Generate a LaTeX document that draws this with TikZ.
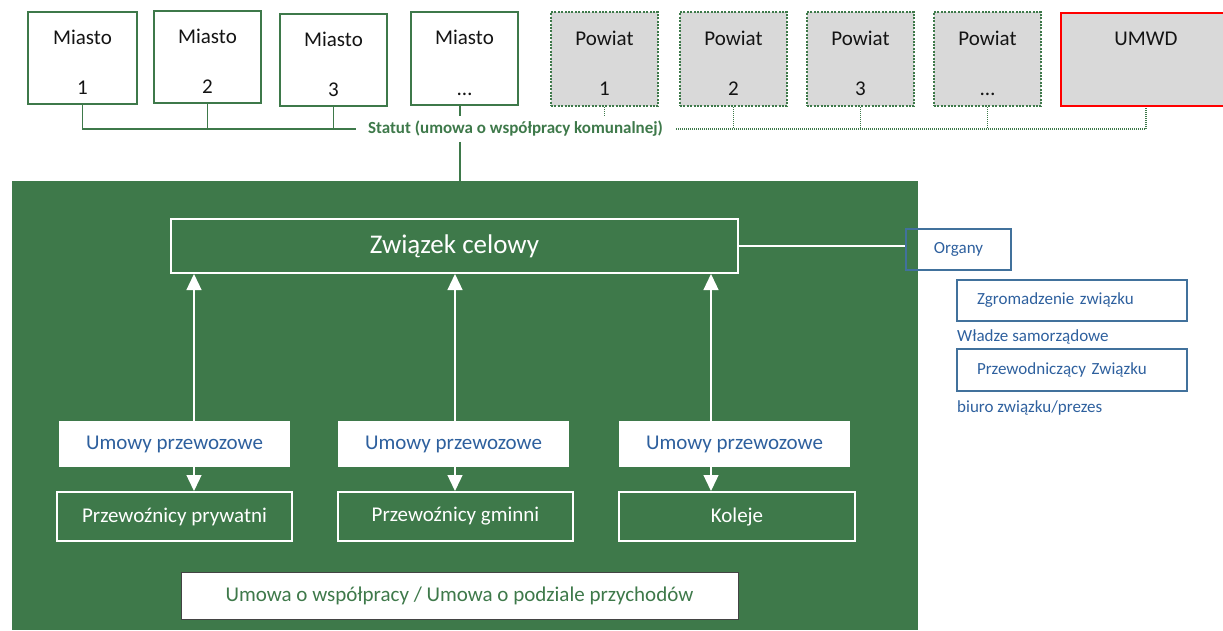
\documentclass[tikz,border=0pt]{standalone}
\usepackage{fontspec}
\setmainfont{Carlito}
\usetikzlibrary{arrows.meta}
\definecolor{gr}{RGB}{62,121,74}
\definecolor{grayfill}{RGB}{217,217,217}
\definecolor{bluetxt}{RGB}{46,96,158}
\definecolor{blueln}{RGB}{65,113,156}
\definecolor{redln}{RGB}{255,0,0}
\definecolor{ink}{RGB}{20,20,20}
\tikzset{
  big/.style={font=\fontsize{21}{25}\selectfont},
  citybox/.style={draw=gr, line width=2.5pt, fill=white, big, text=ink,
    inner xsep=0pt, inner ysep=0pt, text height=32pt, text depth=60pt},
  powbox/.style={draw=gr, line width=2.5pt, dash pattern=on 2pt off 1.4pt, fill=grayfill, big, text=ink,
    inner xsep=0pt, inner ysep=0pt, text height=33pt, text depth=60pt},
  numlab/.style={big, text=ink, anchor=base, inner sep=0pt},
  wbox/.style={draw=white, line width=2pt, text=white, big, inner sep=0pt},
  ubox/.style={fill=white, text=bluetxt, big, inner sep=0pt},
  orgbox/.style={draw=blueln, line width=1.3pt, text=bluetxt, font=\fontsize{17}{20}\selectfont, inner sep=0pt},
  orgtxt/.style={text=bluetxt, font=\fontsize{17}{20}\selectfont, inner sep=0pt, anchor=west},
  gline/.style={draw=gr, line width=1.2pt},
  dline/.style={draw=gr, line width=1.2pt, dash pattern=on 1pt off 1pt},
  warr/.style={draw=white, line width=1.3pt, -{Triangle[width=15pt,length=16pt]}, white},
}
\begin{document}
\begin{tikzpicture}[x=1pt,y=-1pt]
\useasboundingbox (0,0) rectangle (1223,630);
% green background
\node[fill=gr, minimum width=906pt, minimum height=449pt, inner sep=0pt, anchor=north west] (bg) at (12,181) {};

% cities
\node[citybox, minimum width=109pt, minimum height=92pt, label={[name=m1n, numlab, yshift=11pt]south:1}] (m1) at (82.5,58) {Miasto};
\node[citybox, minimum width=107pt, minimum height=92pt, label={[name=m2n, numlab, yshift=11pt]south:2}] (m2) at (207.5,57) {Miasto};
\node[citybox, minimum width=107pt, minimum height=92pt, label={[name=m3n, numlab, yshift=11pt]south:3}] (m3) at (333.5,60) {Miasto};
\node[citybox, minimum width=107pt, minimum height=93pt, label={[name=m4n, numlab, yshift=11pt]south:\dots}] (m4) at (464.5,58.5) {Miasto};

% powiaty
\node[powbox, minimum width=107pt, minimum height=94pt, label={[name=p1n, numlab, yshift=12pt]south:1}] (p1) at (604.5,59) {Powiat};
\node[powbox, minimum width=107pt, minimum height=94pt, label={[name=p2n, numlab, yshift=12pt]south:2}] (p2) at (733.5,59) {Powiat};
\node[powbox, minimum width=107pt, minimum height=94pt, label={[name=p3n, numlab, yshift=12pt]south:3}] (p3) at (860.5,59) {Powiat};
\node[powbox, minimum width=107pt, minimum height=94pt, label={[name=p4n, numlab, yshift=12pt]south:\dots}] (p4) at (987.5,59) {Powiat};
\node[draw=redln, line width=2.5pt, fill=grayfill, big, text=ink, inner sep=0pt,
  text height=32pt, text depth=61pt, minimum width=170pt, minimum height=93pt] (umwd) at (1146,59.5) {UMWD};

% statut
\node[text=gr, font=\bfseries\fontsize{17}{20}\selectfont, inner xsep=12pt, inner ysep=5pt] (statut) at (515.5,129) {Statut (umowa o współpracy komunalnej)};

\draw[gline] (m1.south) |- (statut.west);
\draw[gline] (m2.south) -- (m2.south |- statut.west);
\draw[gline] (m3.south) -- (m3.south |- statut.west);
\coordinate (c4) at (460,0);
\draw[gline] (m4.south -| c4) -- (statut.north -| c4);
\draw[gline] (statut.south -| c4) -- (bg.north -| c4);

\coordinate (c0) at (676,0);
\draw[dline] (p1.south) -- (p1.south |- statut.north);
\draw[dline] (statut.east -| c0) -| (umwd.south);
\draw[dline] (p2.south) -- (p2.south |- statut.east);
\draw[dline] (p3.south) -- (p3.south |- statut.east);
\draw[dline] (p4.south) -- (p4.south |- statut.east);

% zwiazek
\node[wbox, minimum width=567pt, minimum height=54pt, font=\fontsize{27}{31}\selectfont] (zw) at (454.5,246) {Związek celowy};

% organy
\node[orgbox, minimum width=105pt, minimum height=41pt] (org) at (958.5,249.5) {Organy};
\draw[white, line width=1.3pt] (zw.east) -- (zw.east -| org.west);
\node[orgbox, minimum width=230pt, minimum height=41pt, text width=190pt, align=left, inner xsep=20pt] (zg) at (1072,300.5) {Zgromadzenie związku};
\node[orgtxt] (wl) at (957,337) {Władze samorządowe};
\node[orgbox, minimum width=230pt, minimum height=42pt, text width=190pt, align=left, inner xsep=20pt] (pz) at (1072,370) {Przewodniczący Związku};
\node[orgtxt] (bz) at (957,408) {biuro związku/prezes};

% umowy przewozowe
\node[ubox, minimum width=231pt, minimum height=46pt] (u1) at (174.5,444) {Umowy przewozowe};
\node[ubox, minimum width=231pt, minimum height=46pt] (u2) at (453.5,444) {Umowy przewozowe};
\node[ubox, minimum width=231pt, minimum height=46pt] (u3) at (734.5,444) {Umowy przewozowe};

% przewoznicy
\node[wbox, minimum width=235pt, minimum height=49pt] (k1) at (174.5,516.5) {Przewoźnicy prywatni};
\node[wbox, minimum width=235pt, minimum height=49pt] (k2) at (455.5,516.5) {Przewoźnicy gminni};
\node[wbox, minimum width=236pt, minimum height=49pt] (k3) at (737,516.5) {Koleje};

% arrows
\coordinate (a1) at (194,0);
\coordinate (a2) at (455,0);
\coordinate (a3) at (711,0);
\draw[warr] (u1.north -| a1) -- (zw.south -| a1);
\draw[warr] (u2.north -| a2) -- (zw.south -| a2);
\draw[warr] (u3.north -| a3) -- (zw.south -| a3);
\draw[warr] (u1.south -| a1) -- (k1.north -| a1);
\draw[warr] (u2.south -| a2) -- (k2.north -| a2);
\draw[warr] (u3.south -| a3) -- (k3.north -| a3);

% umowa o wspolpracy
\node[fill=white, draw=ink!80, line width=1pt, text=gr, big, minimum width=557pt, minimum height=47pt, inner sep=0pt] (uw) at (459.5,595.5) {Umowa o współpracy / Umowa o podziale przychodów};
\end{tikzpicture}
\end{document}
